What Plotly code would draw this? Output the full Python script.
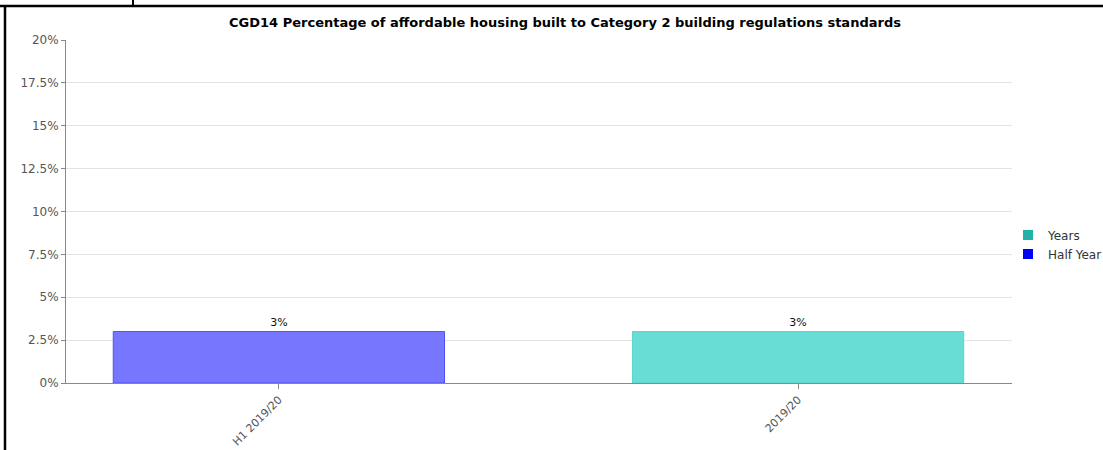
import plotly.graph_objects as go

categories = ["H1 2019/20", "2019/20"]
half_year_values = [3]
years_values = [3]
half_year_cats = ["H1 2019/20"]
years_cats = ["2019/20"]
series_names = ["Years", "Half Year"]
legend_colors = ["#20B2AA", "#0000FF"]
y_tickvals = [0, 2.5, 5, 7.5, 10, 12.5, 15, 17.5, 20]
y_ticktext = ["0%", "2.5%", "5%", "7.5%", "10%", "12.5%", "15%", "17.5%", "20%"]

W, H = 1103, 450
L, R, T, B = 66, 1012, 40, 383

fig = go.Figure()
fig.add_trace(go.Bar(
    name="Years", x=years_cats, y=years_values,
    width=0.638, showlegend=False,
    marker=dict(color="rgba(102,222,214,1)", line=dict(color="rgba(95,210,200,1)", width=1)),
    text=[f"{v:g}%" for v in years_values], textposition="outside",
    textfont=dict(family="DejaVu Sans", size=11, color="#111"),
    cliponaxis=False,
))
fig.add_trace(go.Bar(
    name="Half Year", x=half_year_cats, y=half_year_values,
    width=0.638, showlegend=False,
    marker=dict(color="rgba(118,118,255,1)", line=dict(color="rgba(80,80,240,1)", width=1)),
    text=[f"{v:g}%" for v in half_year_values], textposition="outside",
    textfont=dict(family="DejaVu Sans", size=11, color="#111"),
    cliponaxis=False,
))
# legend entries (legend-only, no data points)
for name, col in zip(series_names, legend_colors):
    fig.add_trace(go.Scatter(
        name=name, x=[None], y=[None], mode="markers",
        marker=dict(symbol="square", size=10, color=col),
        showlegend=True,
    ))

fig.update_layout(
    width=W, height=H,
    margin=dict(l=L, r=W - R, t=T, b=H - B, autoexpand=False),
    paper_bgcolor="white", plot_bgcolor="white",
    barmode="overlay",
    showlegend=True,
    legend=dict(x=(1008 - L) / (R - L), y=(B - 244.5) / (B - T), xanchor="left", yanchor="middle",
                font=dict(family="DejaVu Sans", size=12, color="#333"),
                itemwidth=30, tracegroupgap=0, bgcolor="rgba(0,0,0,0)"),
    title=dict(text="<b>CGD14 Percentage of affordable housing built to Category 2 building regulations standards</b>",
               x=565 / W, xanchor="center", y=1 - 22 / H, yanchor="middle",
               font=dict(family="DejaVu Sans", size=13, color="#000")),
    xaxis=dict(type="category", categoryorder="array", categoryarray=categories,
               range=[-0.41, 1.412], showgrid=False, showline=True,
               linecolor="#888", linewidth=1, ticks="outside", ticklen=5, tickcolor="#888",
               tickangle=-45, tickfont=dict(family="DejaVu Sans", size=11, color="#555")),
    yaxis=dict(range=[0, 20], tickvals=y_tickvals, ticktext=y_ticktext,
               showgrid=True, gridcolor="#e3e3e3", showline=True, linecolor="#888",
               linewidth=1, ticks="outside", ticklen=4, tickcolor="#888",
               zeroline=False,
               tickfont=dict(family="DejaVu Sans", size=12, color="#555")),
    shapes=[
        dict(type="line", xref="paper", yref="paper",
             x0=-L / (R - L), x1=(W - L) / (R - L), y0=(B - 6) / (B - T), y1=(B - 6) / (B - T),
             line=dict(color="#000", width=2.5)),
        dict(type="line", xref="paper", yref="paper",
             x0=(5 - L) / (R - L), x1=(5 - L) / (R - L), y0=(B - 6) / (B - T), y1=(B - 450) / (B - T),
             line=dict(color="#000", width=2.5)),
        dict(type="line", xref="paper", yref="paper",
             x0=(133 - L) / (R - L), x1=(133 - L) / (R - L), y0=(B - 0) / (B - T), y1=(B - 6) / (B - T),
             line=dict(color="#000", width=2)),
    ],
)

fig.write_html("out.html")
